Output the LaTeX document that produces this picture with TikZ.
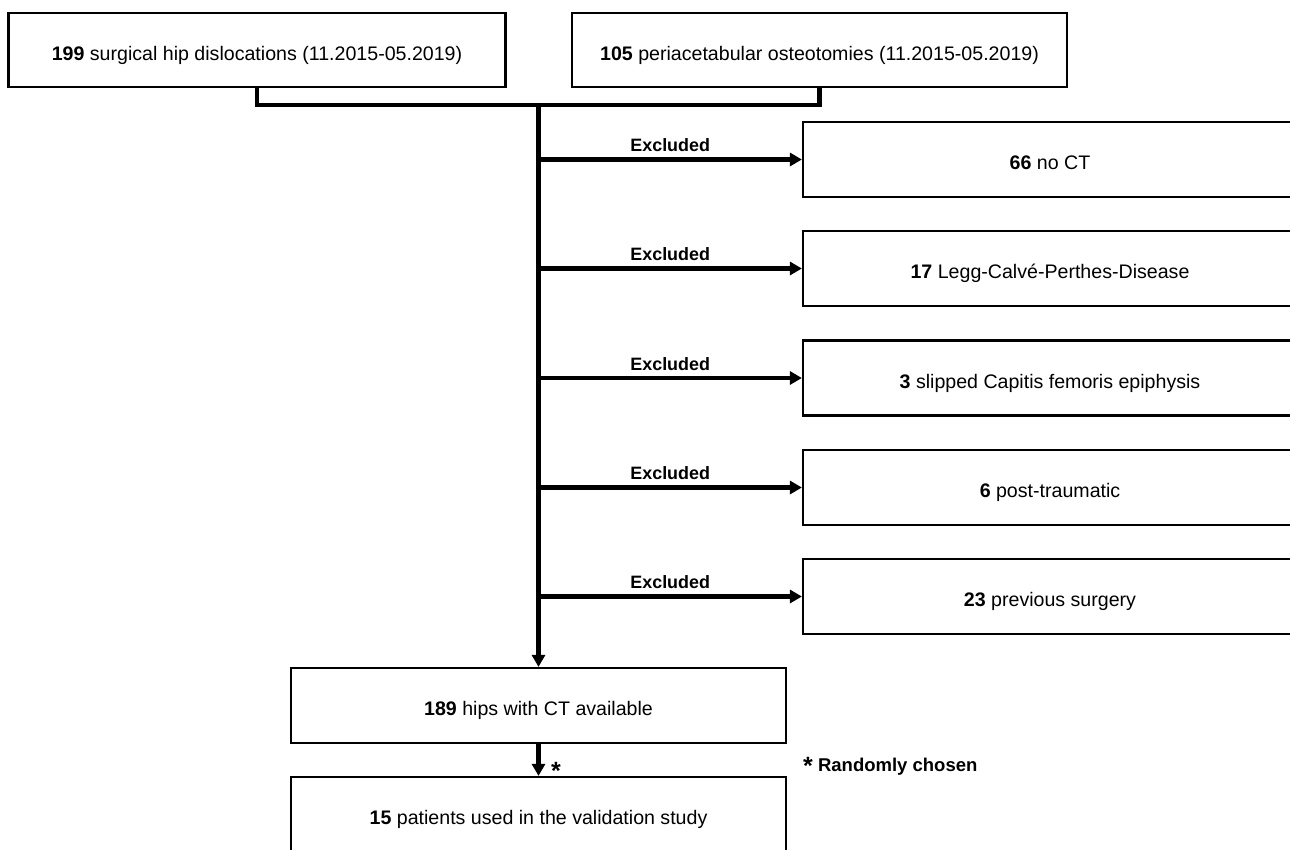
\documentclass[tikz,border=0pt]{standalone}
\usepackage{fontspec}
\setmainfont{Liberation Sans}
\usetikzlibrary{arrows.meta}
\tikzset{
  box/.style={draw=black, line width=2.2pt, fill=white, inner sep=0pt,
    text height=20pt, text depth=0pt, align=center,
    font=\fontsize{19.6}{23}\selectfont},
  conn/.style={line width=4.3pt, line join=miter, line cap=rect},
  arr/.style={line width=4.3pt, -{Triangle[length=12pt,width=13pt]}},
  exlabel/.style={font=\bfseries\fontsize{17.9}{21}\selectfont, anchor=base, inner sep=0pt},
  note/.style={font=\bfseries\fontsize{18.5}{22}\selectfont, anchor=base, inner sep=0pt}
}
\newcommand{\bigast}{{\fontsize{25}{25}\selectfont *}}
\begin{document}
\begin{tikzpicture}[x=1pt,y=-1pt]
\clip (0,0) rectangle (1290,849);
\fill[white] (0,0) rectangle (1290,849);

% top boxes
\node[box, minimum width=497pt, minimum height=74pt] (sd) at (257,50) {\textbf{199} surgical hip dislocations (11.2015-05.2019)};
\node[box, minimum width=495pt, minimum height=74pt] (pao) at (819.5,50) {\textbf{105} periacetabular osteotomies (11.2015-05.2019)};

% exclusion boxes
\node[box, minimum width=494pt, minimum height=75pt] (x1) at (1050,159.5) {\textbf{66} no CT};
\node[box, minimum width=494pt, minimum height=75pt] (x2) at (1050,268.5) {\textbf{17} Legg-Calvé-Perthes-Disease};
\node[box, minimum width=494pt, minimum height=75pt] (x3) at (1050,378) {\textbf{3} slipped Capitis femoris epiphysis};
\node[box, minimum width=494pt, minimum height=75pt] (x4) at (1050,487.5) {\textbf{6} post-traumatic};
\node[box, minimum width=494pt, minimum height=75pt] (x5) at (1050,596.5) {\textbf{23} previous surgery};

% lower boxes
\node[box, minimum width=495pt, minimum height=75pt] (hips) at (538.5,705.5) {\textbf{189} hips with CT available};
\node[box, minimum width=495pt, minimum height=75pt] (val) at (538.5,814.5) {\textbf{15} patients used in the validation study};

% junction coordinates
\coordinate (jl) at (sd.south |- 0,105);
\coordinate (jr) at (pao.south |- 0,105);
\coordinate (j) at (538.5,105);
\coordinate (e1) at (538.5,159.5);
\coordinate (e2) at (538.5,268.5);
\coordinate (e3) at (538.5,378);
\coordinate (e4) at (538.5,487.5);
\coordinate (e5) at (538.5,596.5);

% bracket
\draw[conn] (sd.south) -- (jl) -- (jr) -- (pao.south);
% main trunk
\draw[arr] (j) -- (hips.north);

% exclusion arrows
\draw[arr] (e1) -- node[exlabel, midway, yshift=8pt] {Excluded} (x1.west);
\draw[arr] (e2) -- node[exlabel, midway, yshift=8pt] {Excluded} (x2.west);
\draw[arr] (e3) -- node[exlabel, midway, yshift=8pt] {Excluded} (x3.west);
\draw[arr] (e4) -- node[exlabel, midway, yshift=8pt] {Excluded} (x4.west);
\draw[arr] (e5) -- node[exlabel, midway, yshift=8pt] {Excluded} (x5.west);

% random selection
\draw[arr] (hips.south) -- (val.north);
\node[note] (ast) at (556,779) {\bigast};
\node[note, anchor=base west] (rnd) at (803,771) {\raisebox{-3pt}{\bigast} Randomly chosen};
\end{tikzpicture}
\end{document}
